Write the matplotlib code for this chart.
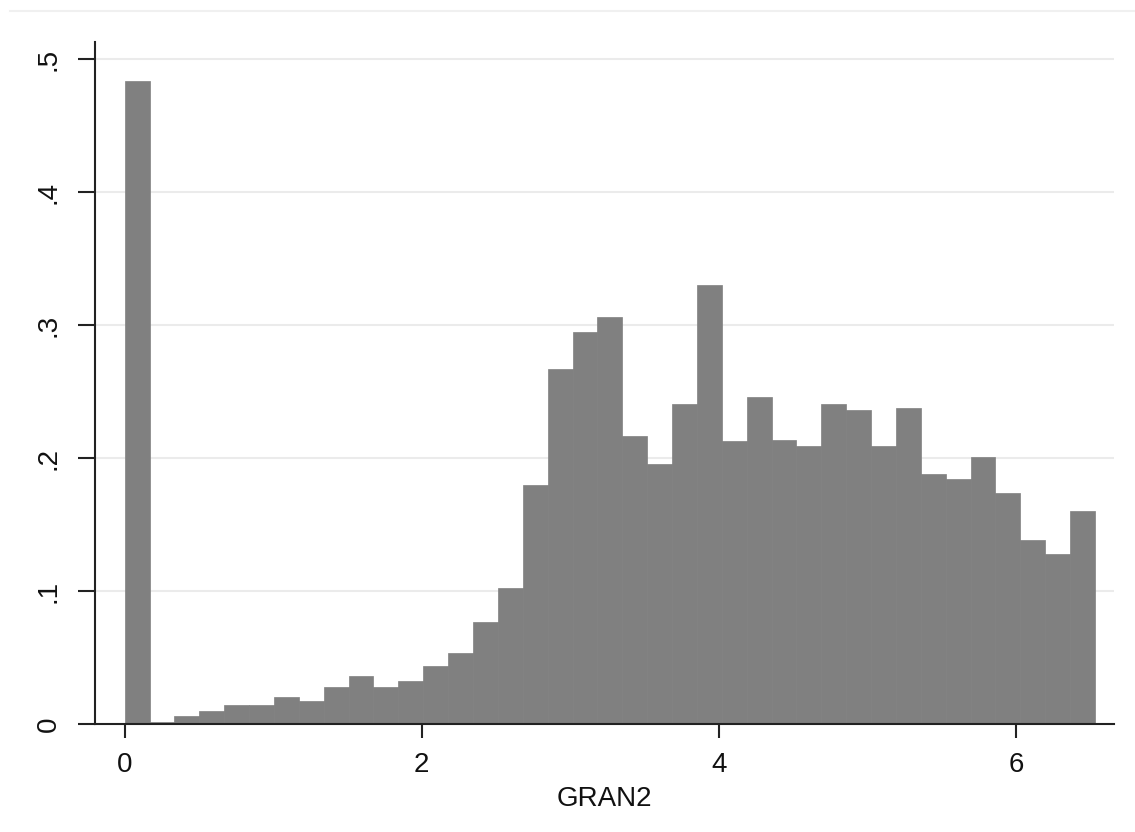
import matplotlib.pyplot as plt
from matplotlib.lines import Line2D
import numpy as np

# histogram of GRAN2 (density), 39 bins
bin_start = 0.0
bin_width = 0.1675
heights = [0.4835, 0.0017, 0.006, 0.010, 0.0143, 0.0143, 0.020, 0.017,
           0.028, 0.036, 0.028, 0.0326, 0.0436, 0.0534, 0.0765, 0.1025,
           0.180, 0.267, 0.295, 0.306, 0.2168, 0.1957, 0.2404, 0.330,
           0.2125, 0.246, 0.2138, 0.209, 0.2404, 0.2363, 0.209, 0.2374,
           0.188, 0.184, 0.201, 0.174, 0.138, 0.128, 0.160]
xticks = [0, 2, 4, 6]
yticks = [0, 0.1, 0.2, 0.3, 0.4, 0.5]
ytick_labels = ["0", ".1", ".2", ".3", ".4", ".5"]
xlabel = "GRAN2"

plt.rcParams['font.family'] = ['Liberation Sans', 'DejaVu Sans']

fig = plt.figure(figsize=(11.35, 8.32), dpi=100)
ax = fig.add_axes([0.0837, 0.1298, 0.898, 0.820])

lefts = bin_start + bin_width * np.arange(len(heights))
ax.bar(lefts, heights, width=bin_width, align='edge',
       color='#808080', edgecolor='#808080', linewidth=0.5, zorder=2)

for y in yticks[1:]:
    ax.axhline(y, color='#ebebeb', linewidth=1.5, zorder=1)

ax.set_xlim(-0.2, 6.662)
ax.set_ylim(0, 0.513)
ax.set_xticks(xticks)
ax.set_yticks(yticks)
ax.set_yticklabels(ytick_labels, rotation=90, va='center')

for side in ['top', 'right']:
    ax.spines[side].set_visible(False)
for side in ['left', 'bottom']:
    ax.spines[side].set_linewidth(1.5)
    ax.spines[side].set_color('#222222')

ax.tick_params(axis='both', labelsize=20, width=1.5, color='#222222',
               labelcolor='#111111')
ax.tick_params(axis='x', length=10, pad=10)
ax.tick_params(axis='y', length=12, pad=12)

ax.set_xlabel(xlabel, fontsize=20, color='#111111', labelpad=6)

# faint outer frame line at the top
fig.add_artist(Line2D([10 / 1135, 1], [1 - 11 / 832, 1 - 11 / 832],
                      color='#f0f0f0', linewidth=1.5))

fig.savefig('out.png', dpi=100)
